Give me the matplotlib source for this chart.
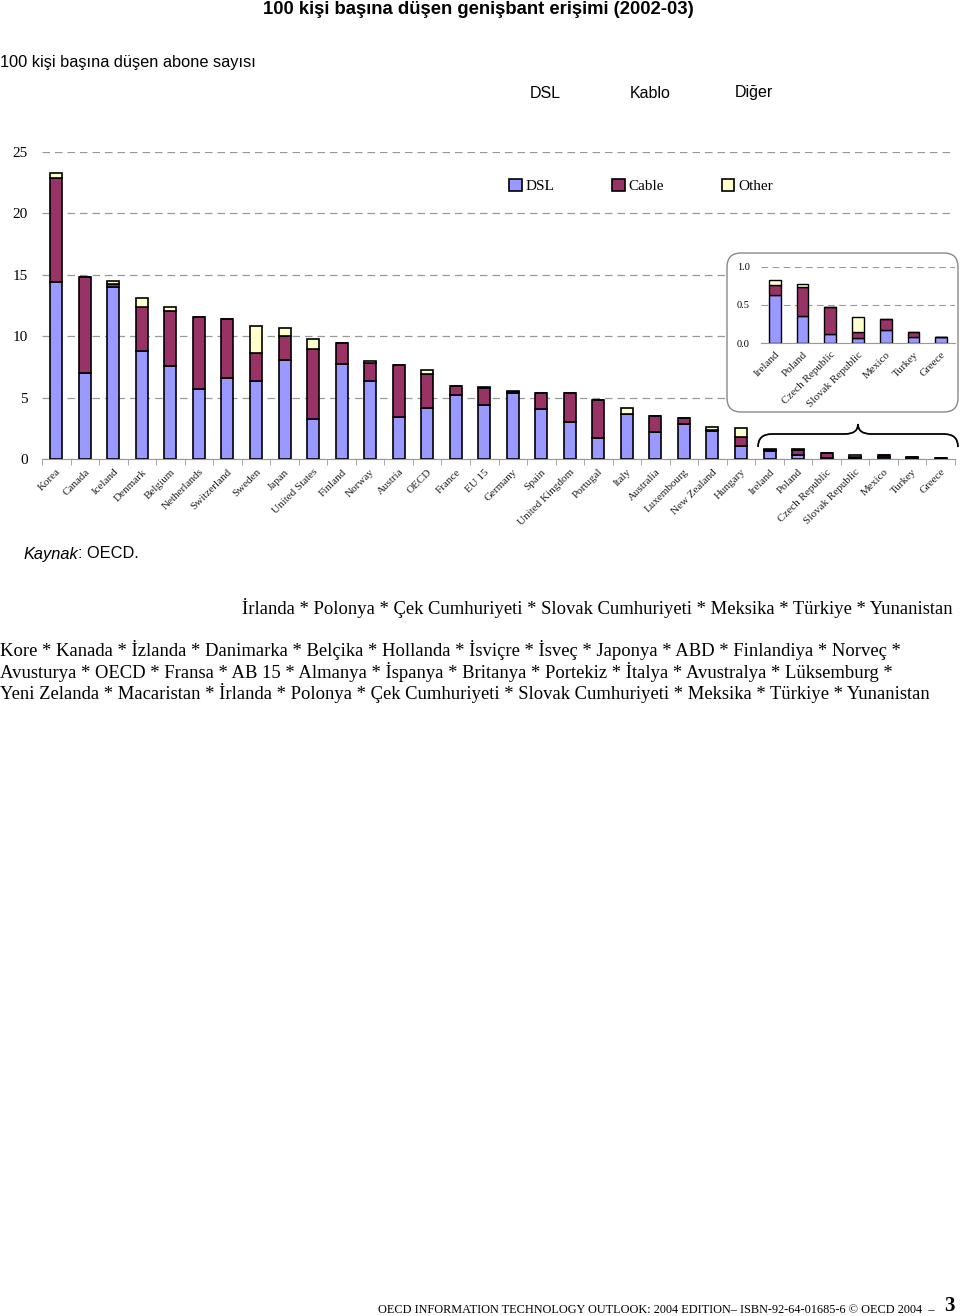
import numpy as np
import matplotlib
matplotlib.use("Agg")
from matplotlib import pyplot as plt
from matplotlib import transforms
from matplotlib.patches import FancyBboxPatch, PathPatch
from matplotlib.path import Path

# data (subscribers per 100 inhabitants)
countries = ["Korea", "Canada", "Iceland", "Denmark", "Belgium", "Netherlands",
             "Switzerland", "Sweden", "Japan", "United States", "Finland", "Norway",
             "Austria", "OECD", "France", "EU 15", "Germany", "Spain", "United Kingdom",
             "Portugal", "Italy", "Australia", "Luxembourg", "New Zealand", "Hungary",
             "Ireland", "Poland", "Czech Republic", "Slovak Republic", "Mexico",
             "Turkey", "Greece"]
dsl = [14.39, 6.98, 14.03, 8.79, 7.57, 5.70, 6.62, 6.35, 8.06, 3.29, 7.74, 6.38,
       3.42, 4.13, 5.24, 4.42, 5.35, 4.04, 3.01, 1.74, 3.67, 2.17, 2.88, 2.25, 1.09,
       0.63, 0.36, 0.12, 0.065, 0.17, 0.074, 0.08]
cable = [8.49, 7.84, 0.25, 3.59, 4.45, 5.89, 4.75, 2.28, 1.93, 5.68, 1.68, 1.46,
         4.21, 2.76, 0.70, 1.33, 0.13, 1.33, 2.34, 3.06, 0.0, 1.33, 0.49, 0.10, 0.73,
         0.13, 0.38, 0.35, 0.075, 0.15, 0.066, 0.0]
other = [0.38, 0.0, 0.19, 0.70, 0.33, 0.0, 0.0, 2.17, 0.70, 0.82, 0.05, 0.17,
         0.0, 0.33, 0.0, 0.11, 0.08, 0.0, 0.0, 0.0, 0.45, 0.0, 0.0, 0.23, 0.73,
         0.075, 0.04, 0.0, 0.20, 0.0, 0.0, 0.0]
inset_names = ["Ireland", "Poland", "Czech Republic", "Slovak Republic",
               "Mexico", "Turkey", "Greece"]

legend_names = ["DSL", "Cable", "Other"]
colors = ["#9999FF", "#993366", "#FFFFCC"]

serif = ["Liberation Serif", "DejaVu Serif"]
sans = ["Liberation Sans", "DejaVu Sans"]

fig = plt.figure(figsize=(9.6, 13.16), dpi=100)
W, H = 960, 1316


def box(l, t, r, b):
    return [l / W, 1 - b / H, (r - l) / W, (b - t) / H]


def shift_labels(labels, dx):
    off = transforms.ScaledTranslation(dx / 72, 0, fig.dpi_scale_trans)
    for lb in labels:
        lb.set_transform(lb.get_transform() + off)


# ---- main chart
ax = fig.add_axes(box(42, 152, 955, 459))
ax.set_zorder(1)
x = np.arange(len(countries))
dsl_a = np.array(dsl)
cab_a = np.array(cable)
oth_a = np.array(other)
bw = 0.42
b1 = ax.bar(x, dsl_a, bw, color=colors[0], edgecolor="black", linewidth=1.2, zorder=3)
b2 = ax.bar(x, cab_a, bw, bottom=dsl_a, color=colors[1], edgecolor="black", linewidth=1.2, zorder=3)
b3 = ax.bar(x, oth_a, bw, bottom=dsl_a + cab_a, color=colors[2], edgecolor="black", linewidth=1.2, zorder=3)
ax.set_xlim(-0.5, len(countries) - 0.5)
ax.set_ylim(0, 25)
ax.set_yticks([0, 5, 10, 15, 20, 25])
ax.set_yticklabels(["0", "5", "10", "15", "20", "25"], family=serif, fontsize=11)
ax.yaxis.grid(True, color="#999999", linestyle=(0, (6, 4)), linewidth=0.9)
ax.set_axisbelow(True)
for s in ["top", "right", "left"]:
    ax.spines[s].set_visible(False)
ax.spines["bottom"].set_color("#999999")
ax.tick_params(axis="y", length=0, pad=10)
ax.set_xticks(x)
xl = ax.set_xticklabels(countries, rotation=45, ha="right", va="top", rotation_mode="anchor",
                        family=serif, fontsize=8, color="#222222")
shift_labels(xl, -6)
ax.tick_params(axis="x", which="major", length=0, pad=6)
ax.set_xticks(np.arange(len(countries) + 1) - 0.5, minor=True)
ax.tick_params(axis="x", which="minor", length=4, color="#999999")

leg = ax.legend([b1, b2, b3], legend_names, loc="center", ncol=3, frameon=False,
                bbox_to_anchor=(641 / W, 1 - 186 / H), bbox_transform=fig.transFigure,
                handlelength=0.85, handleheight=0.85, handletextpad=0.25, columnspacing=3.75,
                prop={"family": serif, "size": 11})

# ---- overlay for box, brace and texts (pixel coordinates)
ov = fig.add_axes([0, 0, 1, 1])
ov.set_zorder(2)
ov.set_xlim(0, W)
ov.set_ylim(H, 0)
ov.axis("off")
ov.patch.set_visible(False)

ov.add_patch(FancyBboxPatch((727, 253), 231, 159, boxstyle="round,pad=0,rounding_size=14",
                            facecolor="white", edgecolor="#888888", linewidth=1.0))
verts = [(758, 447), (758, 434), (772, 434), (845, 434), (858, 434), (858, 424),
         (858, 434), (871, 434), (944, 434), (958, 434), (958, 447)]
codes = [Path.MOVETO, Path.CURVE3, Path.CURVE3, Path.LINETO, Path.CURVE3, Path.CURVE3,
         Path.CURVE3, Path.CURVE3, Path.LINETO, Path.CURVE3, Path.CURVE3]
ov.add_patch(PathPatch(Path(verts, codes), facecolor="none", edgecolor="black", linewidth=1.3))

ov.text(478, 9, "100 kişi başına düşen genişbant erişimi (2002-03)", ha="center", va="center",
        family=sans, fontsize=13.3, fontweight="bold")
ov.text(0, 62, "100 kişi başına düşen abone sayısı", ha="left", va="center", family=sans, fontsize=11.8)
ov.text(545, 93, "DSL", ha="center", va="center", family=sans, fontsize=11.5)
ov.text(650, 93, "Kablo", ha="center", va="center", family=sans, fontsize=11.5)
ov.text(754, 93, "Diğer", ha="center", va="center", family=sans, fontsize=11.5)
src = ov.text(23, 554, "Kaynak", ha="left", va="center", family=sans, fontsize=11.8, style="italic")
fig.canvas.draw()
bb = src.get_window_extent()
x_end = ov.transData.inverted().transform((bb.x1, bb.y0))[0]
ov.text(x_end, 554, ": OECD.", ha="left", va="center", family=sans, fontsize=11.8)

ov.text(953, 608, "İrlanda * Polonya * Çek Cumhuriyeti * Slovak Cumhuriyeti * Meksika * Türkiye * Yunanistan",
        ha="right", va="center", family=serif, fontsize=13.4)
lines = ["Kore * Kanada * İzlanda * Danimarka * Belçika * Hollanda * İsviçre * İsveç * Japonya * ABD * Finlandiya * Norveç *",
         "Avusturya * OECD * Fransa * AB 15 * Almanya * İspanya * Britanya * Portekiz * İtalya * Avustralya * Lüksemburg *",
         "Yeni Zelanda * Macaristan * İrlanda * Polonya * Çek Cumhuriyeti * Slovak Cumhuriyeti * Meksika * Türkiye * Yunanistan"]
for i, ln in enumerate(lines):
    ov.text(0, 650 + i * 21.5, ln, ha="left", va="center", family=serif, fontsize=13.4)

ov.text(935, 1310, "OECD INFORMATION TECHNOLOGY OUTLOOK: 2004 EDITION– ISBN-92-64-01685-6 © OECD 2004  –",
        ha="right", va="center", family=serif, fontsize=8.85)
ov.text(944, 1306, "3", ha="left", va="center", family=serif, fontsize=15, fontweight="bold")

# ---- inset chart for the smallest values
n = len(inset_names)
ins = fig.add_axes(box(761, 267, 955, 343))
ins.set_zorder(3)
ins.patch.set_visible(False)
xi = np.arange(n)
d_i = dsl_a[-n:]
c_i = cab_a[-n:]
o_i = oth_a[-n:]
ins.bar(xi, d_i, 0.42, color=colors[0], edgecolor="black", linewidth=1.0, zorder=3)
ins.bar(xi, c_i, 0.42, bottom=d_i, color=colors[1], edgecolor="black", linewidth=1.0, zorder=3)
ins.bar(xi, o_i, 0.42, bottom=d_i + c_i, color=colors[2], edgecolor="black", linewidth=1.0, zorder=3)
ins.set_xlim(-0.5, n - 0.5)
ins.set_ylim(0, 1.0)
ins.set_yticks([0, 0.5, 1.0])
ins.set_yticklabels(["0.0", "0.5", "1.0"], family=serif, fontsize=7.5)
ins.yaxis.grid(True, color="#999999", linestyle=(0, (6, 4)), linewidth=0.8)
ins.set_axisbelow(True)
for s in ["top", "right", "left"]:
    ins.spines[s].set_visible(False)
ins.spines["bottom"].set_color("#999999")
ins.tick_params(axis="y", length=0, pad=8)
ins.set_xticks(xi)
il = ins.set_xticklabels(inset_names, rotation=45, ha="right", va="top", rotation_mode="anchor",
                         family=serif, fontsize=8, color="#222222")
shift_labels(il, -5)
ins.tick_params(axis="x", length=0, pad=5)

fig.savefig("out.png", dpi=100)
